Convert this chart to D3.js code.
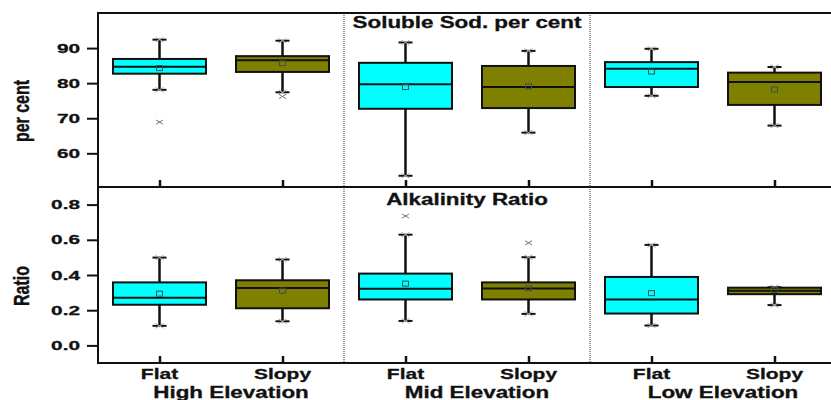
<!DOCTYPE html>
<html>
<head>
<meta charset="utf-8">
<script src="https://cdn.jsdelivr.net/npm/d3@7"></script>
<style>
body{margin:0;background:#fff;}
text{font-family:"Liberation Sans",Arial,sans-serif;font-weight:bold;fill:#111;}
</style>
</head>
<body>
<div id="chart"></div>
<script>
// categories / groups
var terrain = ["Flat","Slopy"];
var elevation = ["High Elevation","Mid Elevation","Low Elevation"];
var boxColor = ["#00ffff","#808000"];

// Soluble sodium per cent (order: HE flat, HE slopy, ME flat, ME slopy, LE flat, LE slopy)
var sodLow    = [78.1, 77.4, 53.6, 65.9, 76.4, 67.9];
var sodQ1     = [82.7, 83.2, 72.7, 72.9, 78.9, 73.8];
var sodMedian = [84.7, 86.5, 79.7, 78.9, 84.1, 80.3];
var sodQ3     = [86.9, 87.7, 85.8, 84.9, 86.0, 83.0];
var sodHigh   = [92.4, 92.1, 91.6, 89.2, 89.8, 84.6];
var sodMean   = [84.3, 85.7, 78.9, 79.1, 83.3, 78.2];
var sodOut    = [[68.9], [76.2], [], [], [], []];

// Alkalinity ratio
var alkLow    = [0.111, 0.137, 0.139, 0.179, 0.113, 0.229];
var alkQ1     = [0.231, 0.211, 0.261, 0.261, 0.181, 0.291];
var alkMedian = [0.271, 0.326, 0.322, 0.324, 0.261, 0.310];
var alkQ3     = [0.358, 0.370, 0.408, 0.358, 0.389, 0.328];
var alkHigh   = [0.499, 0.488, 0.629, 0.501, 0.571, 0.330];
var alkMean   = [0.294, 0.311, 0.351, 0.325, 0.297, 0.315];
var alkOut    = [[], [], [0.735], [0.583], [], []];

var sodTicks = [60, 70, 80, 90];
var alkTicks = [0.0, 0.2, 0.4, 0.6, 0.8];

var width = 831, height = 400;
var left = 98, right = 838, top1 = 13, mid = 187, bottom = 363;
var sx = 1.4; // text is drawn horizontally stretched like the source picture

var svg = d3.select("#chart").append("svg")
	.attr("width", width)
	.attr("height", height);

var x = d3.scaleLinear().domain([-0.5, 5.5]).range([left, left + 6 * 123]);
var step = x(1) - x(0);
var boxW = step * 0.756;

var ySod = d3.scaleLinear().domain([50.4, 100]).range([mid, top1]);
var yAlk = d3.scaleLinear().domain([-0.1, 0.9]).range([bottom, mid]);

function stretchText(px, py, str, size, k, anchor) {
	var g = svg.append("g").attr("transform", "translate(" + px + "," + py + ") scale(" + k + ",1)");
	g.append("text")
		.attr("text-anchor", anchor || "middle")
		.style("font-size", size + "px")
		.attr("stroke", "#111").attr("stroke-width", 0.3)
		.text(str);
	return g;
}

function cross(g, cx, cy, r, col) {
	g.append("path")
		.attr("d", "M" + (cx - r) + "," + (cy - r * 0.6) + "L" + (cx + r) + "," + (cy + r * 0.6) +
			"M" + (cx - r) + "," + (cy + r * 0.6) + "L" + (cx + r) + "," + (cy - r * 0.6))
		.attr("stroke", col)
		.attr("stroke-width", 1)
		.attr("fill", "none");
}

function panel(y, lo, q1, med, q3, hi, mean, outs, ticks, fmt, showLabels) {
	var g = svg.append("g");
	var idx = d3.range(6);

	// y axis
	var ax = g.append("g")
		.attr("transform", "translate(" + left + ",0)")
		.call(d3.axisLeft(y).tickValues(ticks).tickSizeInner(11).tickSizeOuter(0).tickFormat(fmt));
	ax.select(".domain").remove();
	ax.selectAll(".tick line").attr("stroke", "#111").attr("stroke-width", 2);
	ax.selectAll(".tick text")
		.attr("x", 0)
		.attr("transform", "translate(-18,0) scale(1.6,1)")
		.style("font-size", "13px")
		.style("font-family", "'Liberation Sans',Arial,sans-serif")
		.style("font-weight", "bold")
		.attr("stroke", "#111").attr("stroke-width", 0.3)
		.attr("fill", "#111");

	// x ticks pointing inward
	var xb = g.append("g")
		.attr("transform", "translate(0," + y.range()[0] + ")")
		.call(d3.axisBottom(x).tickValues(idx).tickSizeInner(-7).tickSizeOuter(0).tickFormat(""));
	xb.select(".domain").remove();
	xb.selectAll(".tick line").attr("stroke", "#111").attr("stroke-width", 2.5);

	var bx = g.selectAll(".box").data(idx).enter().append("g");

	bx.append("line")
		.attr("x1", function(i){ return x(i); })
		.attr("x2", function(i){ return x(i); })
		.attr("y1", function(i){ return y(hi[i]); })
		.attr("y2", function(i){ return y(lo[i]); })
		.attr("stroke", "#111").attr("stroke-width", 2.5);

	bx.each(function(i){
		var s = d3.select(this);
		[hi[i], lo[i]].forEach(function(v){
			s.append("line")
				.attr("x1", x(i) - 7).attr("x2", x(i) + 7)
				.attr("y1", y(v)).attr("y2", y(v))
				.attr("stroke", "#111").attr("stroke-width", 2);
			cross(s, x(i), y(v), 4, "#aaa");
		});
	});

	bx.append("rect")
		.attr("x", function(i){ return x(i) - boxW / 2; })
		.attr("y", function(i){ return y(q3[i]); })
		.attr("width", boxW)
		.attr("height", function(i){ return y(q1[i]) - y(q3[i]); })
		.attr("fill", function(i){ return boxColor[i % 2]; })
		.attr("stroke", "#111").attr("stroke-width", 2);

	bx.append("line")
		.attr("x1", function(i){ return x(i) - boxW / 2; })
		.attr("x2", function(i){ return x(i) + boxW / 2; })
		.attr("y1", function(i){ return y(med[i]); })
		.attr("y2", function(i){ return y(med[i]); })
		.attr("stroke", "#111").attr("stroke-width", 2);

	bx.append("rect")
		.attr("x", function(i){ return x(i) - 3; })
		.attr("y", function(i){ return y(mean[i]) - 2.5; })
		.attr("width", 6).attr("height", 5)
		.attr("fill", "none")
		.attr("stroke", "#3b5050").attr("stroke-width", 1);

	bx.each(function(i){
		var s = d3.select(this);
		outs[i].forEach(function(v){ cross(s, x(i), y(v), 3.5, "#777"); });
	});

	if (showLabels) {
		idx.forEach(function(i){
			stretchText(x(i), 379, terrain[i % 2], 15, sx);
		});
		elevation.forEach(function(e, j){
			stretchText((x(2 * j) + x(2 * j + 1)) / 2 + 10, 398, e, 16, sx);
		});
	}
}

panel(ySod, sodLow, sodQ1, sodMedian, sodQ3, sodHigh, sodMean, sodOut, sodTicks, d3.format("d"), false);
panel(yAlk, alkLow, alkQ1, alkMedian, alkQ3, alkHigh, alkMean, alkOut, alkTicks, d3.format(".1f"), true);

// group separators
[1.5, 3.5].forEach(function(v){
	svg.append("line")
		.attr("x1", x(v)).attr("x2", x(v))
		.attr("y1", top1).attr("y2", bottom)
		.attr("stroke", "#333").attr("stroke-width", 1)
		.attr("stroke-dasharray", "1,1");
});

// frames
svg.append("rect").attr("x", left).attr("y", top1).attr("width", right - left).attr("height", mid - top1)
	.attr("fill", "none").attr("stroke", "#111").attr("stroke-width", 2);
svg.append("rect").attr("x", left).attr("y", mid).attr("width", right - left).attr("height", bottom - mid)
	.attr("fill", "none").attr("stroke", "#111").attr("stroke-width", 2);

// titles
var gc = (x(2) + x(3)) / 2;
stretchText(gc, 28, "Soluble Sod. per cent", 16, sx);
stretchText(gc, 205, "Alkalinity Ratio", 16, sx);

// y axis titles
svg.append("g").attr("transform", "translate(29,111) scale(1.35,1) rotate(-90)")
	.append("text").attr("text-anchor", "middle").style("font-size", "16px")
	.attr("stroke", "#111").attr("stroke-width", 0.3).text("per cent");
svg.append("g").attr("transform", "translate(29,286) scale(1.35,1) rotate(-90)")
	.append("text").attr("text-anchor", "middle").style("font-size", "16px")
	.attr("stroke", "#111").attr("stroke-width", 0.3).text("Ratio");
</script>
</body>
</html>
